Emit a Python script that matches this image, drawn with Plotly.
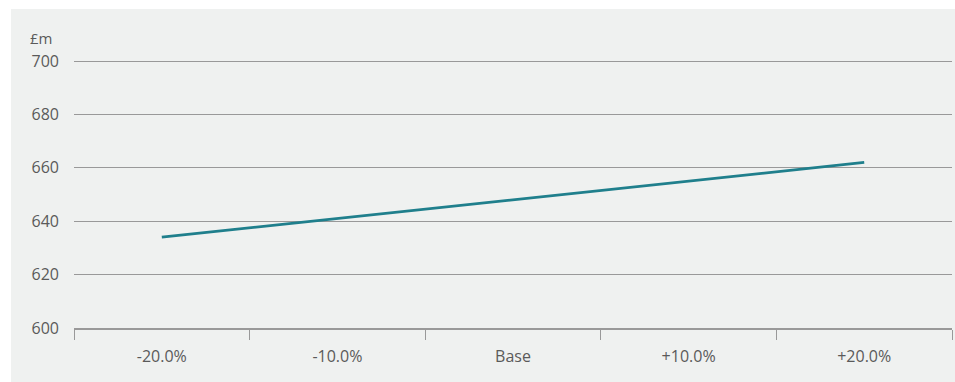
import plotly.graph_objects as go

categories = ["-20.0%", "-10.0%", "Base", "+10.0%", "+20.0%"]
values = [634, 641, 648, 655, 662]
y_ticks = [600, 620, 640, 660, 680, 700]

W, H = 955, 382
# plot area in page pixels
X0, X1 = 74, 952
Y600, Y700 = 328, 61
T = 56
L, R, B = X0, W - X1, H - Y600
pw, ph = W - L - R, H - T - B
px_per_unit = (Y600 - Y700) / 100.0
y_top = 600 + (Y600 - T) / px_per_unit

fig = go.Figure()
fig.add_trace(go.Scatter(x=categories, y=values, mode="lines",
                         line=dict(color="#1f7f8c", width=2.8), hoverinfo="skip"))

grey_bg = "#eff1f0"
fig.update_layout(
    width=W, height=H,
    margin=dict(l=L, r=R, t=T, b=B, pad=0),
    paper_bgcolor="white",
    plot_bgcolor=grey_bg,
    showlegend=False,
    font=dict(family="Open Sans", size=16, color="#5a5a5a"),
    shapes=[dict(type="rect", xref="paper", yref="paper",
                 x0=(11 - L) / pw, x1=1 + R / pw,
                 y0=-B / ph, y1=1 + (T - 9) / ph,
                 fillcolor=grey_bg, line=dict(width=0), layer="below")],
    annotations=[dict(text="£m", xref="paper", yref="paper",
                      x=(28 - L) / pw, y=1 + (T - 38) / ph,
                      xanchor="left", yanchor="middle", showarrow=False,
                      font=dict(size=15, color="#5a5a5a"))],
)
fig.update_xaxes(type="category", range=[-0.5, 4.5], tickson="boundaries",
                 ticks="outside", ticklen=10, tickcolor="#999999", tickwidth=1.2,
                 showline=True, linecolor="#999999", linewidth=1.5,
                 showgrid=False, zeroline=False, ticklabelstandoff=13)
fig.update_yaxes(range=[600, y_top], tickvals=y_ticks, showgrid=True,
                 gridcolor="#999999", gridwidth=1.2, zeroline=False,
                 showline=False, ticks="", ticklabelstandoff=14)

fig.write_html("out.html", config={"displayModeBar": False},
               post_script="document.body.style.margin='0';document.body.style.overflow='hidden';")
